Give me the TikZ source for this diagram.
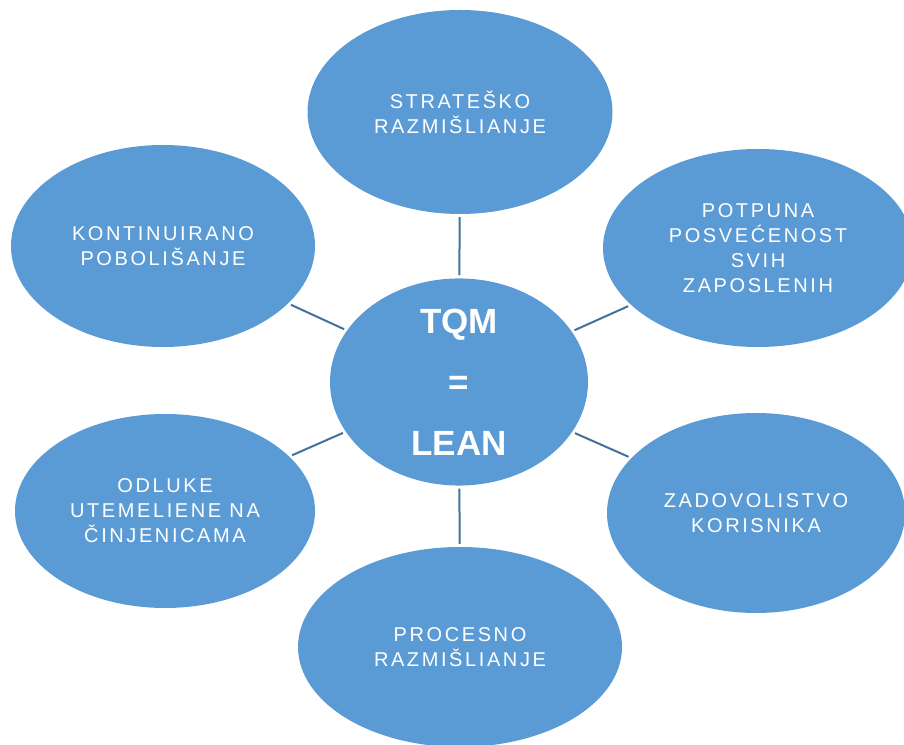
\documentclass[tikz,border=0pt]{standalone}
\usepackage{fontspec}
\setmainfont{Liberation Sans}
\newfontfamily\widefont{Liberation Sans}[LetterSpace=13]
\usepackage{xcolor}
\usetikzlibrary{shapes}

\definecolor{bubblefill}{HTML}{5B9BD5}
\definecolor{spokeline}{HTML}{41719C}

\tikzset{
  bubble/.style={ellipse, fill=bubblefill, text=white, align=center, inner sep=0pt},
  spoke/.style={draw=spokeline, line width=2pt, shorten >=3pt, shorten <=3pt}
}

\begin{document}
\begin{tikzpicture}[x=1pt,y=1pt]
  \useasboundingbox (0,0) rectangle (904,744);
  \clip (0,0) rectangle (904,744);

  \node[bubble, minimum width=258, minimum height=201, font=\fontsize{35}{61}\selectfont\bfseries] (tqm) at (459,362) {TQM\\=\\LEAN};

  \foreach \x/\y/\w/\h/\alph/\name in {460/632/305/204/strat/STRATEŠKO\\RAZMIŠLIANJE, 758/496/310/198/potp/POTPUNA\\POSVEĆENOST\\SVIH\\ZAPOSLENIH, 756/231/298/200/zad/ZADOVOLISTVO\\KORISNIKA, 460/97/324/200/proc/PROCESNO\\RAZMIŠLIANJE, 165/233/300/194/odl/ODLUKE\\UTEMELIENE NA\\ČINJENICAMA, 163/498/304/202/kont/KONTINUIRANO\\POBOLIŠANJE}{
    \node[bubble, minimum width=\w, minimum height=\h, font=\widefont\fontsize{20}{25}\selectfont] (\alph) at (\x,\y) {\name}; }

  \foreach \alph in {strat,potp,zad,proc,odl,kont}%
           {%
             \draw[spoke] (tqm) -- (\alph);%
           }
\end{tikzpicture}
\end{document}
